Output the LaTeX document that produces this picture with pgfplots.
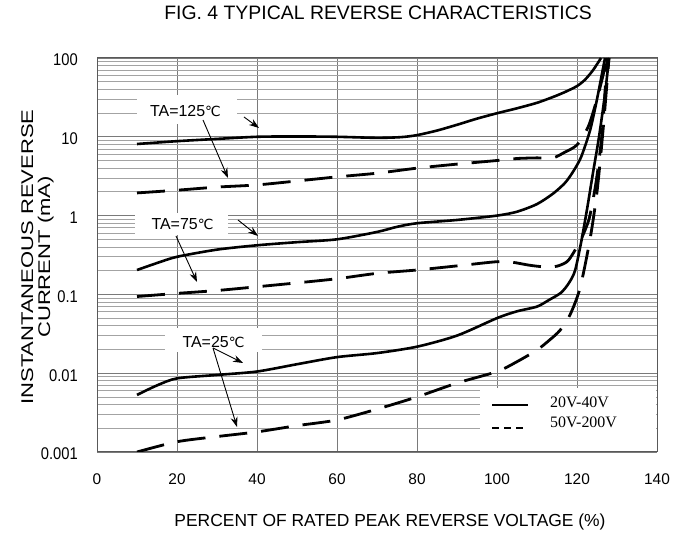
\documentclass[border=0pt]{standalone}
\usepackage{pgfplots}
\pgfplotsset{compat=1.18}
\usetikzlibrary{arrows.meta}
\usepackage{fontspec}
\setmainfont{Liberation Sans}
\newfontfamily\ticky[FakeStretch=0.87]{Liberation Sans}
\newfontfamily\ylabfont[FakeStretch=1.3]{Liberation Sans}
\newfontfamily\serif{Liberation Serif}
\newfontfamily\djsym{DejaVu Sans}
\newcommand{\degc}{{\djsym\fontsize{14}{16}\selectfont ℃}}
\begin{document}
\begin{tikzpicture}[x=1bp,y=1bp]
\path[use as bounding box] (0,0) rectangle (680,533);
\begin{axis}[
  at={(97bp,81bp)}, anchor=south west,
  width=560bp, height=394bp, scale only axis,
  xmin=0, xmax=140, ymin=0.001, ymax=100, ymode=log,
  xtick={0,20,40,60,80,100,120,140},
  xticklabels={0,20,40,60,80,100,120,140},
  ytick={0.001,0.01,0.1,1,10,100},
  yticklabels={0.001,0.01,0.1,1,10,100},
  grid=both,
  major grid style={black!52, line width=0.8bp},
  minor grid style={black!36, line width=0.8bp},
  major tick length=0pt, minor tick length=0pt,
  axis line style={black!65, line width=1bp},
  xticklabel style={font=\fontsize{15.5}{18}\selectfont, anchor=base, inner sep=0pt, yshift=-32.5bp},
  yticklabel style={font=\ticky\fontsize{17}{19}\selectfont, anchor=east, inner sep=0pt, xshift=-19bp, yshift=-2bp},
  every axis plot/.append style={smooth, tension=0.45, black},
  solidc/.style={line width=2.6bp},
  dashc/.style={line width=2.8bp, dash pattern=on 28bp off 14bp},
]
% TA=125 C
\addplot[solidc] coordinates {(10,8.1)(20,8.8)(30,9.4)(40,10.0)(50,10.1)(60,10.0)(70,9.7)(76,9.9)(80,10.5)(85,12)(90,14.2)(95,17)(100,19.9)(105,23)(110,27)(114,32)(117,37)(120,44)(122,53)(124,70)(126,100)};
\addplot[dashc] coordinates {(10,1.94)(20,2.1)(30,2.3)(40,2.45)(50,2.75)(60,3.1)(70,3.45)(80,4.0)(90,4.5)(100,5.0)(105,5.3)(110,5.4)(114,5.4)(117,6.4)(120,7.9)(122.8,13.4)(124.9,29)(126.5,60)(127.5,100)};
% TA=75 C
\addplot[solidc] coordinates {(10,0.204)(15,0.25)(20,0.30)(30,0.37)(40,0.42)(50,0.46)(60,0.50)(70,0.62)(75,0.72)(80,0.80)(90,0.88)(100,1.0)(105,1.12)(110,1.4)(114,1.9)(117,2.6)(119,3.6)(121,5.5)(123.25,12)(125,30)(127,100)};
\addplot[dashc] coordinates {(10,0.094)(20,0.103)(30,0.112)(40,0.125)(50,0.14)(60,0.158)(70,0.185)(80,0.204)(90,0.23)(100,0.26)(104,0.255)(108,0.235)(112,0.223)(115,0.228)(117.5,0.26)(119,0.33)(121,0.5)(123,0.9)(124.5,2.2)(125.5,5)(126.5,15)(127.5,100)};
% TA=25 C
\addplot[solidc] coordinates {(10,0.0053)(15,0.0070)(20,0.0086)(30,0.0095)(40,0.0105)(50,0.013)(60,0.016)(70,0.018)(80,0.0217)(90,0.03)(100,0.05)(105,0.061)(110,0.070)(113,0.085)(116,0.105)(118,0.14)(119.5,0.2)(121,0.45)(122.5,1.2)(124,3.5)(125.5,10)(127,35)(128,100)};
\addplot[dashc] coordinates {(10,0.001)(20,0.00135)(30,0.00157)(40,0.0018)(50,0.00216)(60,0.00255)(70,0.0035)(80,0.005)(90,0.0075)(100,0.0105)(105,0.014)(110,0.0197)(113,0.026)(115.75,0.035)(118.25,0.055)(120.75,0.12)(123.25,0.5)(125,2)(126.5,12)(128,100)};
\end{axis}
% white boxes behind labels
\fill[white] (137,409) rectangle (237,438);
\fill[white] (135,298) rectangle (228,320);
\fill[white] (165,181) rectangle (262,205);
\fill[white] (480,82) rectangle (656,145);
% labels
\node[anchor=base, font=\fontsize{16}{18}\selectfont, inner sep=0pt] at (185.5,416) {TA=125\degc};
\node[anchor=base, font=\fontsize{16}{18}\selectfont, inner sep=0pt] at (182.5,303) {TA=75\degc};
\node[anchor=base, font=\fontsize{16}{18}\selectfont, inner sep=0pt] at (213.5,185) {TA=25\degc};
% arrows
\begin{scope}[line width=0.9bp, -{Stealth[length=10bp,width=7bp]}]
\draw (203,413) -- (228,355);
\draw (244,416) -- (259,405);
\draw (238,313) -- (258,297);
\draw (176,297) -- (197,251);
\draw (213,185) -- (243,170);
\draw (213,185) -- (237,106);
\end{scope}
% legend
\draw[line width=2.8bp] (492,128) -- (528,128);
\draw[line width=1.3bp, dash pattern=on 7bp off 5bp] (492,105) -- (524,105);
\node[anchor=base west, inner sep=0pt, font=\serif\fontsize{16}{18}\selectfont] at (550,125) {20V-40V};
\node[anchor=base west, inner sep=0pt, font=\serif\fontsize{16}{18}\selectfont] at (550,105) {50V-200V};
% titles
\node[anchor=base, inner sep=0pt, font=\fontsize{19.5}{23}\selectfont] at (378,513) {FIG. 4 TYPICAL REVERSE CHARACTERISTICS};
\node[anchor=base, inner sep=0pt, font=\fontsize{17.5}{21}\selectfont] at (390,6) {PERCENT OF RATED PEAK REVERSE VOLTAGE (\%)};
\node[anchor=base, inner sep=0pt, rotate=90, font=\ylabfont\fontsize{17}{20}\selectfont] at (33,276) {INSTANTANEOUS REVERSE};
\node[anchor=base, inner sep=0pt, rotate=90, font=\ylabfont\fontsize{17}{20}\selectfont] at (50,276) {CURRENT (mA)};
\end{tikzpicture}
\end{document}
